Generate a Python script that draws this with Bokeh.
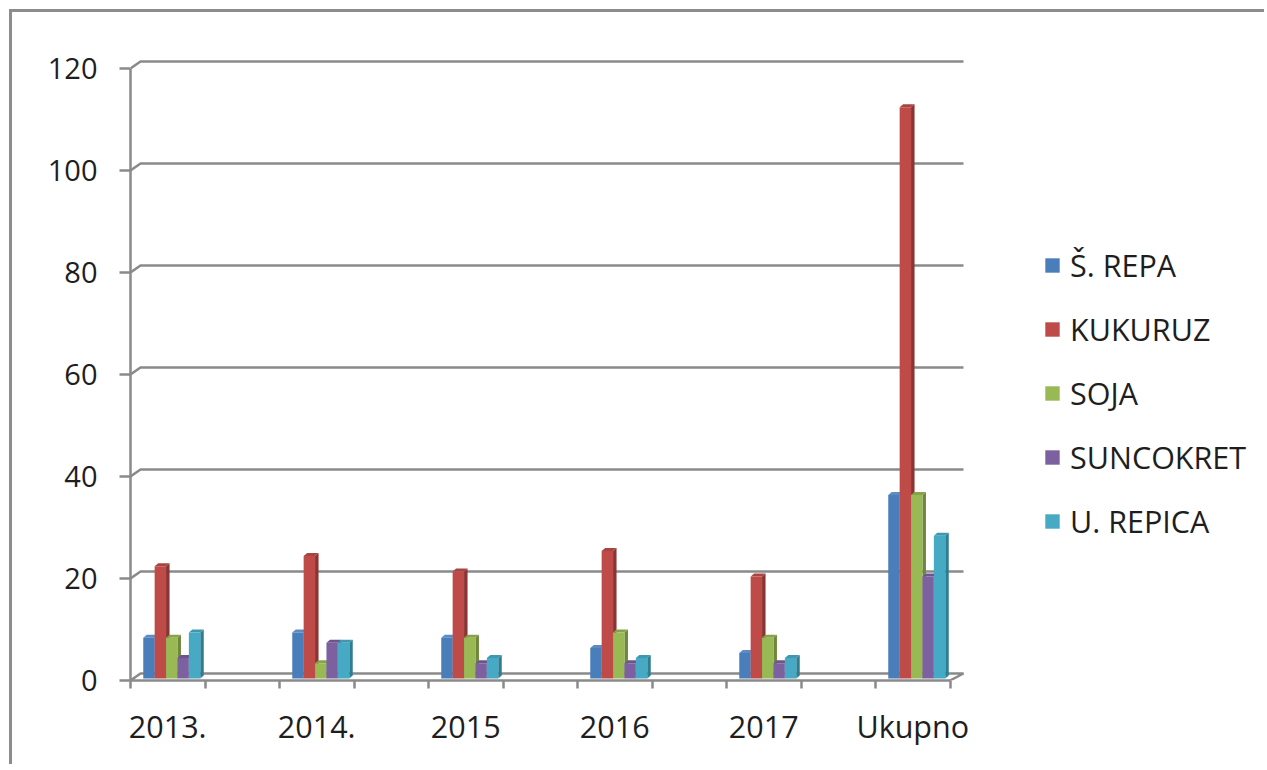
from bokeh.plotting import figure
from bokeh.models import Range1d, FixedTicker, Legend, LegendItem
from bokeh.embed import file_html
from bokeh.resources import INLINE

# ---------------- data ----------------
categories = ["2013.", "2014.", "2015", "2016", "2017", "Ukupno"]
series_names = ["Š. REPA", "KUKURUZ", "SOJA", "SUNCOKRET", "U. REPICA"]
s_repa = [8, 9, 8, 6, 5, 36]
kukuruz = [22, 24, 21, 25, 20, 112]
soja = [8, 3, 8, 9, 8, 36]
suncokret = [4, 7, 3, 3, 3, 20]
u_repica = [9, 7, 4, 4, 4, 28]
y_ticks = [0, 20, 40, 60, 80, 100, 120]

series_values = [s_repa, kukuruz, soja, suncokret, u_repica]

# ---------------- styles ----------------
front_colors = ["#4A7EBB", "#BE4B48", "#98B954", "#7D60A0", "#46AAC5"]
side_colors = ["#345B8A", "#8A3533", "#6F873D", "#5A4575", "#327C90"]
top_colors = ["#5D8CC4", "#A84442", "#86A34A", "#6D548C", "#3E98AF"]
GRID = "#8A8A8A"
TEXT = "#1E1E1E"
FONT = "Open Sans"
NUM_SIZE = "29px"
TXT_SIZE = "30.5px"

PX_X = 149.0   # px per category
PX_Y = 5.1     # px per unit
PAGE_L, PAGE_T = 12, 12
W, H = 1255, 755
FRAME_L, FRAME_T, FRAME_B = 130, 40, 680
frame_w = PAGE_L + W - FRAME_L
frame_h = FRAME_B - FRAME_T
x0 = -0.25

p = figure(width=W, height=H,
           x_range=Range1d(x0, x0 + frame_w / PX_X),
           y_range=Range1d(0, frame_h / PX_Y),
           output_backend="svg", toolbar_location=None,
           min_border_left=FRAME_L - PAGE_L, min_border_top=FRAME_T - PAGE_T,
           min_border_bottom=PAGE_T + H - FRAME_B, min_border_right=0)
p.styles = {"border-top": "3px solid #8C8C8C", "border-left": "3px solid #8C8C8C",
            "margin-left": "9px", "margin-top": "9px"}
p.outline_line_color = None
p.xgrid.visible = False
p.ygrid.visible = False
p.background_fill_color = "white"
p.border_fill_color = "white"

# ---------------- walls / gridlines ----------------
dxw = 10 / PX_X
dyw = 7 / PX_Y
x_back_end = x0 + (963 - FRAME_L) / PX_X
x_front_end = 5.25
grid_xs, grid_ys = [], []
for v in y_ticks[1:]:
    grid_xs.append([x0, x0 + dxw, x_back_end])
    grid_ys.append([v, v + dyw, v + dyw])
# floor
grid_xs.append([x0, x0 + dxw, x_back_end, x_front_end])
grid_ys.append([0, dyw, dyw, 0])
p.multi_line(grid_xs, grid_ys, line_color=GRID, line_width=2.5)

# ---------------- bars ----------------
bw = 11.4 / PX_X
start_off = -24.5 / PX_X
v0 = 2 / PX_Y
ddx = 3.5 / PX_X
ddy = 3 / PX_Y
front_renderers = []
for j, vals in enumerate(series_values):
    lefts = [i + start_off + j * bw for i in range(len(categories))]
    rights = [l + bw for l in lefts]
    tops = [v0 + v for v in vals]
    side_xs = [[r, r + ddx, r + ddx, r] for r in rights]
    side_ys = [[v0, v0 + ddy, t + ddy, t] for t in tops]
    top_xs = [[l, r, r + ddx, l + ddx] for l, r in zip(lefts, rights)]
    top_ys = [[t, t, t + ddy, t + ddy] for t in tops]
    p.patches(side_xs, side_ys, fill_color=side_colors[j], line_color=None)
    p.patches(top_xs, top_ys, fill_color=top_colors[j], line_color=None)
    r = p.quad(left=lefts, right=rights, bottom=[v0] * len(vals), top=tops,
               fill_color=front_colors[j], line_color=None)
    front_renderers.append(r)

# ---------------- axes ----------------
yax = p.yaxis[0]
yax.ticker = FixedTicker(ticks=y_ticks)
yax.bounds = (0, 120)
yax.axis_line_color = GRID
yax.axis_line_width = 2.5
yax.major_tick_line_color = GRID
yax.major_tick_line_width = 2.5
yax.major_tick_out = 11
yax.major_tick_in = 0
yax.minor_tick_line_color = None
yax.major_label_standoff = 22
yax.major_label_text_font = FONT
yax.major_label_text_font_size = NUM_SIZE
yax.major_label_text_color = TEXT

xax = p.xaxis[0]
minor = []
for i in range(len(categories)):
    minor += [i - 0.25, i + 0.25]
xax.ticker = FixedTicker(ticks=list(range(len(categories))), minor_ticks=minor)
xax.major_label_overrides = {i: c for i, c in enumerate(categories)}
xax.bounds = (x0, x_front_end)
xax.axis_line_color = GRID
xax.axis_line_width = 2.5
xax.major_tick_line_color = None
xax.major_tick_out = 0
xax.major_tick_in = 0
xax.minor_tick_line_color = GRID
xax.minor_tick_line_width = 2.5
xax.minor_tick_out = 8
xax.minor_tick_in = 0
xax.major_label_standoff = 16
xax.major_label_text_font = FONT
xax.major_label_text_font_size = TXT_SIZE
xax.major_label_text_color = TEXT

# ---------------- legend ----------------
legend = Legend(items=[LegendItem(label=n, renderers=[front_renderers[j]])
                       for j, n in enumerate(series_names)],
                location=(1043 - FRAME_L, FRAME_B - 542),
                glyph_width=18, glyph_height=18, label_standoff=9,
                label_height=18, spacing=22, padding=0, margin=0,
                border_line_color=None, background_fill_alpha=0,
                label_text_font=FONT, label_text_font_size=TXT_SIZE,
                label_text_color=TEXT)
p.add_layout(legend)

open("out.html", "w").write(file_html(p, INLINE))
